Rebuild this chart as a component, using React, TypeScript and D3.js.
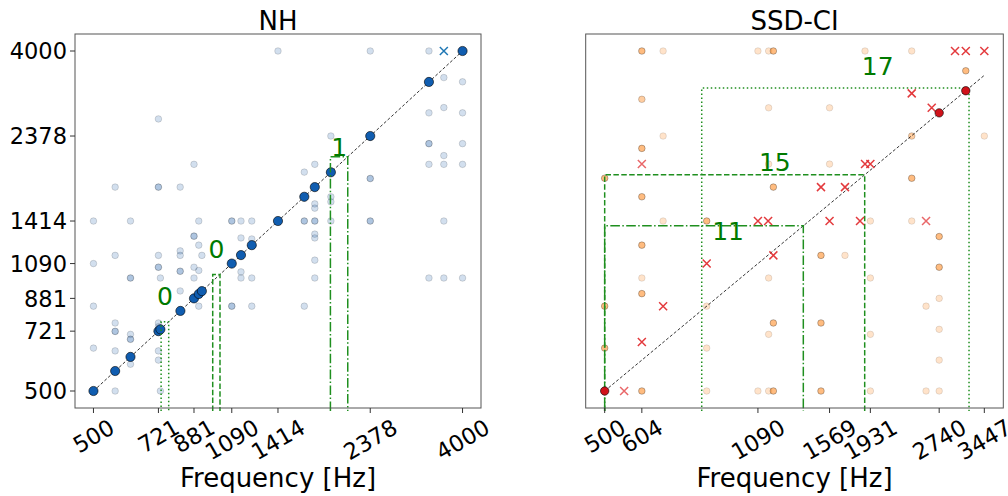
import React from "react";
import * as d3 from "d3";

// ---------- data ----------
const nhTicks = [500, 721, 881, 1090, 1414, 2378, 4000];
const nhYTicks = [500, 721, 881, 1090, 1414, 2378, 4000];
const ciTicks = [500, 604, 1090, 1569, 1931, 2740, 3447];

// NH: points on the diagonal (correct responses)
const nhDiag = [500, 565, 616, 721, 729, 816, 881, 905, 921, 1090, 1148, 1220, 1414, 1640, 1740, 1905, 2378, 3310, 4000];
// NH: off-diagonal responses [stimulus, response, count]
const nhOff: [number, number, number][] = [
  [500, 1414, 1], [500, 1090, 1], [500, 840, 1], [500, 650, 1],
  [565, 1740, 1], [565, 1146, 1], [565, 758, 1], [565, 720, 2], [565, 639, 1], [565, 500, 1],
  [616, 1414, 1], [616, 998, 2], [616, 707, 1], [616, 686, 2], [616, 589, 1],
  [721, 2640, 1], [721, 1740, 2], [721, 1146, 1], [721, 1066, 2], [721, 758, 1], [721, 741, 1], [721, 639, 1], [721, 604, 1],
  [729, 998, 1], [729, 500, 1],
  [815, 1740, 1], [815, 1178, 1], [815, 1146, 1], [815, 1040, 2], [815, 922, 1],
  [881, 2000, 1], [881, 1289, 2], [881, 1066, 1], [881, 998, 1],
  [905, 1414, 1], [905, 1220, 1], [905, 1045, 1], [905, 840, 1],
  [921, 1146, 1],
  [1090, 1414, 2], [1090, 840, 2],
  [1148, 1414, 1], [1148, 1275, 1], [1148, 1036, 1], [1148, 998, 1],
  [1220, 1414, 1], [1220, 1267, 1], [1220, 998, 1], [1220, 840, 1],
  [1414, 4000, 1],
  [1640, 1907, 1], [1640, 1414, 2], [1640, 840, 1],
  [1740, 2000, 1], [1740, 1570, 1], [1740, 1530, 1], [1740, 1414, 2], [1740, 1305, 1], [1740, 1275, 1], [1740, 1113, 1], [1740, 998, 1],
  [1905, 2378, 1], [1905, 1640, 1], [1905, 1590, 1], [1905, 1414, 1],
  [2378, 4000, 1], [2378, 1834, 2], [2378, 1414, 2],
  [3310, 4000, 1], [3310, 2740, 1], [3310, 2270, 2], [3310, 2000, 1], [3310, 998, 1],
  [3600, 3400, 1], [3600, 2830, 1], [3600, 2110, 1], [3600, 2000, 1], [3600, 1414, 1], [3600, 998, 1],
  [4000, 3313, 1], [4000, 2740, 1], [4000, 2270, 1], [4000, 2000, 1], [4000, 998, 1],
];
const nhCross: [number, number][] = [[3600, 4000]];

// SSD-CI
const ciDiag = [500, 2740, 3137];
const ciOff: [number, number, number][] = [
  [604, 4000, 3], [673, 4000, 1], [1090, 4000, 1], [1151, 4000, 1], [1179, 4000, 3], [1879, 4000, 1], [2383, 4000, 1],
  [3137, 3544, 3], [604, 2977, 2], [1151, 2826, 1], [1569, 2826, 1],
  [673, 2378, 1], [2383, 2378, 2], [3447, 2378, 1],
  [604, 2205, 3], [1151, 2003, 1], [1569, 2003, 1],
  [500, 1837, 3], [2383, 1837, 3], [604, 1640, 3], [1179, 1740, 3],
  [673, 1414, 1], [840, 1414, 3], [1931, 1414, 1], [2383, 1414, 1],
  [2740, 1286, 3], [604, 1220, 3], [1502, 1146, 3], [1697, 1146, 1], [2740, 1066, 3],
  [604, 998, 1], [1151, 998, 1], [1931, 998, 1], [604, 907, 3], [2740, 881, 1],
  [500, 840, 3], [840, 840, 1], [2563, 840, 1],
  [1179, 758, 3], [1502, 758, 3], [2740, 729, 1], [1151, 707, 1], [1931, 707, 1],
  [500, 650, 3], [840, 650, 1], [2740, 604, 1],
  [604, 500, 3], [840, 500, 1], [1090, 500, 1], [1151, 500, 1], [1179, 500, 3], [1502, 500, 3], [1931, 500, 1], [2563, 500, 1], [2740, 500, 1],
];
const ciCross: [number, number, number][] = [
  [552, 500, 1], [604, 675, 2], [673, 840, 2], [840, 1090, 2], [1179, 1146, 2],
  [1090, 1414, 2], [1148, 1414, 2], [1569, 1414, 2], [1832, 1414, 2], [2563, 1414, 1],
  [1502, 1740, 2], [1697, 1740, 2], [604, 2003, 1], [1879, 2003, 2], [1931, 2003, 2],
  [2383, 3087, 2], [2638, 2826, 2], [2970, 4000, 2], [3137, 4000, 2], [3447, 4000, 2],
];

// brackets: [low, high, label, style, label baseline value]
type Bracket = [number, number, string, string, number];
const nhBrackets: Bracket[] = [
  [732, 764, "0", "dotted", 845],
  [979, 1020, "0", "dashed", 1127],
  [1900, 2095, "1", "dashdot", 2100],
];
const ciBrackets: Bracket[] = [
  [819, 3189, "17", "dotted", 3452],
  [500, 1876, "15", "dashed", 1915],
  [500, 1373, "11", "dashdot", 1260],
];

// ---------- layout ----------
const FONT = "DejaVu Sans, sans-serif";
const TICK_FS = 22.5;
const TOP = 34;
const BOTTOM = 408;
const dashes: Record<string, string> = {
  dotted: "1.5,2.5",
  dashed: "5.5,2.4",
  dashdot: "9.6,2.4,1.5,2.4",
};

function logDomain(lo: number, hi: number): [number, number] {
  const d = Math.log10(hi / lo) * 0.05;
  return [lo / Math.pow(10, d), hi * Math.pow(10, d)];
}

const yScale = d3.scaleLog().domain(logDomain(500, 4000)).range([BOTTOM, TOP]);

function alphaOf(a: number, n: number) {
  return 1 - Math.pow(1 - a, n);
}

function XTickLabels({ ticks, x }: { ticks: number[]; x: d3.ScaleLogarithmic<number, number> }) {
  return (
    <g>
      {ticks.map((t) => {
        const cx = x(t);
        const s = String(t);
        const w = s.length * 0.636 * TICK_FS;
        const h = 0.729 * TICK_FS;
        const bh = w * 0.5 + h * 0.866;
        const cy = BOTTOM + 10 + bh / 2;
        return (
          <g key={t}>
            <line x1={cx} x2={cx} y1={BOTTOM} y2={BOTTOM + 5} stroke="#333" strokeWidth={1} />
            <text
              x={cx}
              y={cy + 0.3645 * TICK_FS}
              textAnchor="middle"
              fontSize={TICK_FS}
              fontFamily={FONT}
              fill="#000"
              transform={`rotate(-30, ${cx}, ${cy})`}
            >
              {s}
            </text>
          </g>
        );
      })}
    </g>
  );
}

function Brackets({ items, x, y }: { items: Bracket[]; x: any; y: any }) {
  return (
    <g>
      {items.map(([lo, hi, label, style, ly], i) => {
        const x1 = x(lo);
        const x2 = x(hi);
        const yt = y(hi);
        const path = `M${x1},${BOTTOM + 3} L${x1},${yt} L${x2},${yt} L${x2},${BOTTOM + 3}`;
        return (
          <g key={i}>
            <path d={path} fill="none" stroke="#1f8f1f" strokeWidth={1.5} strokeDasharray={dashes[style]} />
            <text x={x((lo + hi) / 2)} y={y(ly)} textAnchor="middle" fontSize={25} fontFamily={FONT} fill="#007a00">
              {label}
            </text>
          </g>
        );
      })}
    </g>
  );
}

function Cross({ cx, cy, color, op, sw }: { cx: number; cy: number; color: string; op: number; sw: number }) {
  const r = 4;
  return (
    <path
      d={`M${cx - r},${cy - r}L${cx + r},${cy + r}M${cx - r},${cy + r}L${cx + r},${cy - r}`}
      stroke={color}
      strokeOpacity={op}
      strokeWidth={sw}
      fill="none"
    />
  );
}

function Panel({
  x0, x1, title, xTicks, dataMax, showY, children,
}: {
  x0: number; x1: number; title: string; xTicks: number[]; dataMax: number; showY: boolean;
  children: (x: d3.ScaleLogarithmic<number, number>) => React.ReactNode;
}) {
  const x = d3.scaleLog().domain(logDomain(500, dataMax)).range([x0, x1]);
  const midX = (x0 + x1) / 2;
  return (
    <g>
      <text x={midX} y={30} textAnchor="middle" fontSize={26} fontFamily={FONT}>{title}</text>
      <clipPath id={`clip-${title}`}>
        <rect x={x0} y={TOP} width={x1 - x0} height={BOTTOM - TOP + 4} />
      </clipPath>
      <g clipPath={`url(#clip-${title})`}>{children(x)}</g>
      <rect x={x0} y={TOP} width={x1 - x0} height={BOTTOM - TOP} fill="none" stroke="#555" strokeWidth={1} />
      <XTickLabels ticks={xTicks} x={x} />
      {showY &&
        nhYTicks.map((t) => (
          <g key={t}>
            <line x1={x0 - 5} x2={x0} y1={yScale(t)} y2={yScale(t)} stroke="#333" strokeWidth={1} />
            <text x={x0 - 8} y={yScale(t) + 0.3645 * TICK_FS} textAnchor="end" fontSize={TICK_FS} fontFamily={FONT}>
              {t}
            </text>
          </g>
        ))}
      <text x={midX} y={486.5} textAnchor="middle" fontSize={26} fontFamily={FONT}>Frequency [Hz]</text>
    </g>
  );
}

export default function App() {
  const y = yScale;
  return (
    <svg width={1008} height={496} style={{ position: "absolute", left: 0, top: 0, background: "#fff" }}>
      <rect width={1008} height={496} fill="#fff" />
      <Panel x0={75} x1={481} title="NH" xTicks={nhTicks} dataMax={4000} showY={true}>
        {(x) => (
          <g>
            {nhOff.map(([a, b, n], i) => (
              <circle key={i} cx={x(a)} cy={y(b)} r={3.3} fill="#1f5fa8" fillOpacity={alphaOf(0.2, n)}
                stroke="#000" strokeOpacity={alphaOf(0.2, n)} strokeWidth={0.7} />
            ))}
            <line x1={x(500)} y1={y(500)} x2={x(4000)} y2={y(4000)} stroke="#000" strokeWidth={0.8} strokeDasharray="3,2" />
            {nhCross.map(([a, b], i) => (
              <Cross key={i} cx={x(a)} cy={y(b)} color="#1f77b4" op={1} sw={1.5} />
            ))}
            {nhDiag.map((a, i) => (
              <circle key={i} cx={x(a)} cy={y(a)} r={4.6} fill="#105db0" stroke="#000" strokeWidth={0.6} />
            ))}
            <Brackets items={nhBrackets} x={x} y={y} />
          </g>
        )}
      </Panel>
      <Panel x0={585.7} x1={1003.3} title="SSD-CI" xTicks={ciTicks} dataMax={3447} showY={false}>
        {(x) => (
          <g>
            {ciOff.map(([a, b, n], i) => (
              <circle key={i} cx={x(a)} cy={y(b)} r={3.3} fill="#ff7f0e" fillOpacity={alphaOf(0.22, n)}
                stroke="#000" strokeOpacity={alphaOf(0.15, n)} strokeWidth={0.7} />
            ))}
            <line x1={x(500)} y1={y(500)} x2={x(3447)} y2={y(3447)} stroke="#000" strokeWidth={0.8} strokeDasharray="3,2" />
            <Brackets items={ciBrackets} x={x} y={y} />
            {ciCross.map(([a, b, n], i) => (
              <Cross key={i} cx={x(a)} cy={y(b)} color="#e0262a" op={alphaOf(0.7, n)} sw={1.5} />
            ))}
            {ciDiag.map((a, i) => (
              <circle key={i} cx={x(a)} cy={y(a)} r={4.2} fill="#d0121a" stroke="#000" strokeWidth={0.6} />
            ))}
          </g>
        )}
      </Panel>
    </svg>
  );
}
